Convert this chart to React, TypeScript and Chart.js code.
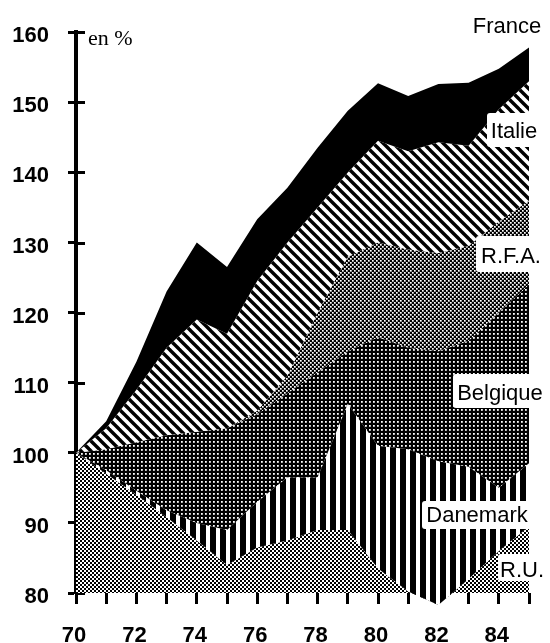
import React, { useEffect, useRef } from 'react';
import { Chart, registerables } from 'chart.js';

Chart.register(...registerables);

// ---- Data ----
const YEARS = [70, 71, 72, 73, 74, 75, 76, 77, 78, 79, 80, 81, 82, 83, 84, 85];
const X_LABELS = [70, 72, 74, 76, 78, 80, 82, 84];
const Y_MIN = 80;
const Y_MAX = 160;
const Y_STEP = 10;

const RU = [100, 97, 94, 90.8, 87.5, 84, 86.5, 87.5, 89, 89, 83.5, 80.2, 78.3, 82, 86, 89.5];
const DANEMARK = [100, 97.5, 94.6, 91.8, 90, 89, 93, 96.5, 96.5, 107, 101, 100.5, 98.8, 98, 95, 98.5];
const BELGIQUE = [100, 100.5, 101.5, 102.5, 103, 103.5, 105.5, 108.5, 111.5, 114.5, 116.5, 115, 114.5, 116, 120, 124];
const RFA = [100, 100.5, 101.5, 102.5, 103, 103.5, 106, 111, 120, 128, 130, 129, 128.5, 129.5, 133, 136];
const ITALIE = [100, 103.5, 109, 115, 119, 117, 124.5, 130, 135, 140, 144.5, 143, 144.3, 143.8, 149, 153];
const FRANCE = [100, 104.5, 113, 123, 130, 126.5, 133.3, 137.8, 143.5, 148.8, 152.7, 150.9, 152.6, 152.8, 154.8, 157.8];

const SERIES_NAMES = ['R.U.', 'Danemark', 'Belgique', 'R.F.A.', 'Italie', 'France'];
const SERIES_VALUES = [RU, DANEMARK, BELGIQUE, RFA, ITALIE, FRANCE];
const UNIT_LABEL = 'en %';

// ---- Styles ----
const SANS = '"Liberation Sans", Arial, Helvetica, sans-serif';
const SERIF = '"Liberation Serif", "Times New Roman", serif';

function tile(size: number, draw: (g: CanvasRenderingContext2D, s: number) => void) {
  const c = document.createElement('canvas');
  c.width = size;
  c.height = size;
  const g = c.getContext('2d') as CanvasRenderingContext2D;
  g.fillStyle = '#fff';
  g.fillRect(0, 0, size, size);
  g.fillStyle = '#000';
  g.strokeStyle = '#000';
  draw(g, size);
  return c;
}

function makePatterns(ctx: CanvasRenderingContext2D) {
  const ru = tile(4, (g) => {
    g.fillRect(0, 0, 2, 2);
    g.fillRect(2, 2, 2, 2);
  });
  const dk = tile(10, (g) => {
    g.fillRect(0, 0, 6, 10);
  });
  const be = tile(4, (g) => {
    g.fillRect(0, 0, 4, 4);
    g.fillStyle = '#fff';
    g.fillRect(1, 1, 1.8, 1.8);
  });
  const rfa = tile(4, (g) => {
    g.fillRect(0, 0, 4, 4);
    g.fillStyle = '#fff';
    g.fillRect(0, 0, 1.7, 1.7);
    g.fillRect(2, 2, 1.7, 1.7);
  });
  const it = tile(10, (g, s) => {
    g.lineWidth = 3.4;
    for (let k = -1; k <= 1; k++) {
      g.beginPath();
      g.moveTo(k * s - 2, -2);
      g.lineTo(k * s + s + 2, s + 2);
      g.stroke();
    }
  });
  return [
    ctx.createPattern(ru, 'repeat'),
    ctx.createPattern(dk, 'repeat'),
    ctx.createPattern(be, 'repeat'),
    ctx.createPattern(rfa, 'repeat'),
    ctx.createPattern(it, 'repeat'),
    '#000',
  ];
}

export default function App() {
  const ref = useRef<HTMLCanvasElement | null>(null);

  useEffect(() => {
    const canvas = ref.current;
    if (!canvas) return;
    const ctx0 = canvas.getContext('2d') as CanvasRenderingContext2D;
    const patterns = makePatterns(ctx0);

    const bandFill = {
      id: 'bandFill',
      beforeDatasetsDraw(chart: any) {
        const ctx = chart.ctx as CanvasRenderingContext2D;
        const yS = chart.scales.y;
        const xS = chart.scales.x;
        // right-hand half of the y-axis tick marks (behind the fills)
        ctx.save();
        ctx.strokeStyle = '#000';
        ctx.lineWidth = 3;
        for (let v = Y_MIN; v <= Y_MAX; v += Y_STEP) {
          const py = Math.round(yS.getPixelForValue(v)) + 0.5;
          ctx.beginPath();
          ctx.moveTo(xS.left, py);
          ctx.lineTo(xS.left + 9, py);
          ctx.stroke();
        }
        ctx.restore();

        const base = yS.getPixelForValue(Y_MIN);
        let prev: { x: number; y: number }[] | null = null;
        chart.data.datasets.forEach((_: any, i: number) => {
          const pts = chart.getDatasetMeta(i).data.map((p: any) => ({ x: p.x, y: p.y }));
          ctx.save();
          ctx.beginPath();
          ctx.moveTo(pts[0].x, pts[0].y);
          for (let k = 1; k < pts.length; k++) ctx.lineTo(pts[k].x, pts[k].y);
          if (prev) {
            for (let k = prev.length - 1; k >= 0; k--) ctx.lineTo(prev[k].x, prev[k].y);
          } else {
            ctx.lineTo(pts[pts.length - 1].x, base);
            ctx.lineTo(pts[0].x, base);
          }
          ctx.closePath();
          ctx.fillStyle = patterns[i] as any;
          ctx.fill();
          ctx.restore();
          prev = pts;
        });
      },
      afterDraw(chart: any) {
        const ctx = chart.ctx as CanvasRenderingContext2D;
        const boxes = [
          { name: SERIES_NAMES[0], box: [498, 554, 50, 27], tx: 522, ty: 577 },
          { name: SERIES_NAMES[1], box: [422, 501, 111, 28], tx: 477, ty: 522 },
          { name: SERIES_NAMES[2], box: [453, 374, 95, 34], tx: 500, ty: 400 },
          { name: SERIES_NAMES[3], box: [476, 236, 72, 36], tx: 511, ty: 263 },
          { name: SERIES_NAMES[4], box: [487, 113, 61, 34], tx: 514, ty: 138 },
        ];
        ctx.save();
        for (const b of boxes) {
          const [bx, by, bw, bh] = b.box;
          ctx.fillStyle = '#fff';
          ctx.beginPath();
          (ctx as any).roundRect(bx, by, bw, bh, 3);
          ctx.fill();
          ctx.fillStyle = '#000';
          ctx.font = `22px ${SANS}`;
          ctx.textAlign = 'center';
          ctx.textBaseline = 'alphabetic';
          ctx.fillText(b.name, b.tx, b.ty);
        }
        ctx.fillStyle = '#000';
        ctx.font = `22px ${SANS}`;
        ctx.textAlign = 'center';
        ctx.fillText(SERIES_NAMES[5], 507, 33);
        ctx.font = `22px ${SERIF}`;
        ctx.textAlign = 'left';
        ctx.fillText(UNIT_LABEL, 88, 45);
        ctx.restore();
      },
    };

    const chart = new Chart(canvas, {
      type: 'line',
      data: {
        datasets: SERIES_VALUES.map((vals, i) => ({
          label: SERIES_NAMES[i],
          data: YEARS.map((x, k) => ({ x, y: vals[k] })),
          showLine: false,
          pointRadius: 0,
          borderWidth: 0,
          fill: false,
        })),
      },
      options: {
        animation: false,
        responsive: true,
        maintainAspectRatio: false,
        layout: { padding: { left: 12, top: 29, right: 2, bottom: 0 } },
        plugins: { legend: { display: false }, tooltip: { enabled: false } },
        scales: {
          x: {
            type: 'linear',
            min: YEARS[0],
            max: YEARS[YEARS.length - 1],
            border: { display: false },
            grid: { drawOnChartArea: false, drawTicks: true, tickLength: 11, tickWidth: 3, tickColor: '#000' },
            afterFit: (s: any) => {
              s.height = 50;
            },
            ticks: {
              stepSize: 1,
              autoSkip: false,
              maxRotation: 0,
              padding: 21,
              labelOffset: -2,
              color: '#000',
              font: { family: SANS, size: 22, weight: 'bold', lineHeight: 1 },
              callback: (v: any) => (X_LABELS.includes(Number(v)) ? String(v) : ''),
            },
          },
          y: {
            type: 'linear',
            min: Y_MIN,
            max: Y_MAX,
            z: 1,
            border: { display: true, color: '#000', width: 4 },
            grid: { drawOnChartArea: false, drawTicks: true, tickLength: 8, tickWidth: 3, tickColor: '#000' },
            afterFit: (s: any) => {
              s.width = 64;
            },
            ticks: {
              stepSize: Y_STEP,
              padding: 19,
              labelOffset: 4,
              color: '#000',
              font: { family: SANS, size: 22, weight: 'bold' },
            },
          },
        },
      },
      plugins: [bandFill],
    } as any);

    return () => chart.destroy();
  }, []);

  return (
    <div style={{ position: 'absolute', left: 0, top: 0, width: 550, height: 643, background: '#fff' }}>
      <canvas ref={ref} />
    </div>
  );
}
